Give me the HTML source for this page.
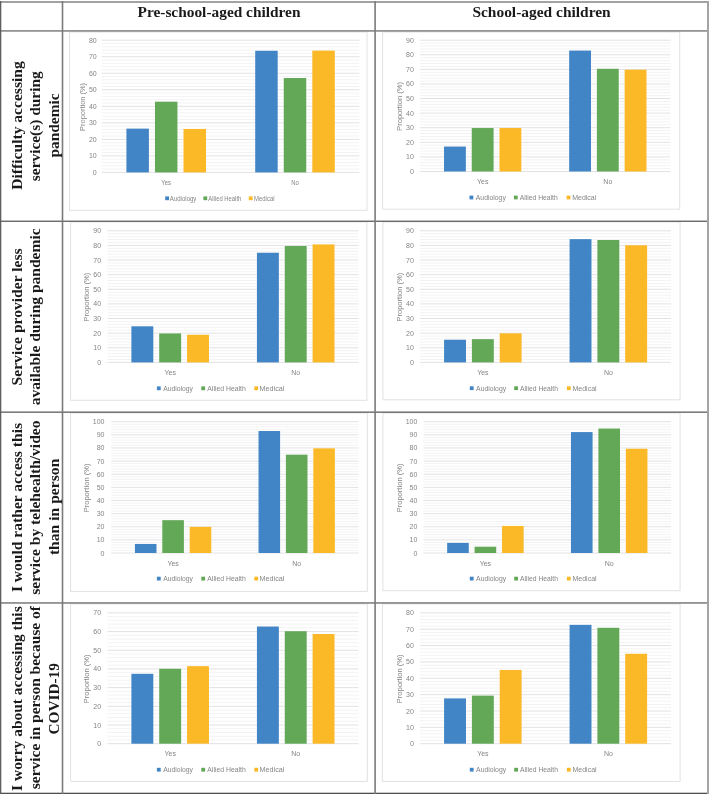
<!DOCTYPE html><html><head><meta charset="utf-8"><style>html,body{margin:0;padding:0;background:#fff;}svg{display:block;filter:blur(0.35px)}</style></head><body>
<svg width="709" height="794" viewBox="0 0 709 794" font-family="Liberation Sans, sans-serif">
<rect x="0" y="0" width="709" height="794" fill="#fff"/>
<rect x="69.5" y="32" width="297.5" height="178.3" fill="#fff" stroke="#e2e2e2" stroke-width="1"/>
<line x1="101.8" x2="359.4" y1="169.09" y2="169.09" stroke="#f3f3f5" stroke-width="1"/>
<line x1="101.8" x2="359.4" y1="165.79" y2="165.79" stroke="#f3f3f5" stroke-width="1"/>
<line x1="101.8" x2="359.4" y1="162.49" y2="162.49" stroke="#f3f3f5" stroke-width="1"/>
<line x1="101.8" x2="359.4" y1="159.18" y2="159.18" stroke="#f3f3f5" stroke-width="1"/>
<line x1="101.8" x2="359.4" y1="152.57" y2="152.57" stroke="#f3f3f5" stroke-width="1"/>
<line x1="101.8" x2="359.4" y1="149.27" y2="149.27" stroke="#f3f3f5" stroke-width="1"/>
<line x1="101.8" x2="359.4" y1="145.96" y2="145.96" stroke="#f3f3f5" stroke-width="1"/>
<line x1="101.8" x2="359.4" y1="142.66" y2="142.66" stroke="#f3f3f5" stroke-width="1"/>
<line x1="101.8" x2="359.4" y1="136.05" y2="136.05" stroke="#f3f3f5" stroke-width="1"/>
<line x1="101.8" x2="359.4" y1="132.74" y2="132.74" stroke="#f3f3f5" stroke-width="1"/>
<line x1="101.8" x2="359.4" y1="129.44" y2="129.44" stroke="#f3f3f5" stroke-width="1"/>
<line x1="101.8" x2="359.4" y1="126.13" y2="126.13" stroke="#f3f3f5" stroke-width="1"/>
<line x1="101.8" x2="359.4" y1="119.52" y2="119.52" stroke="#f3f3f5" stroke-width="1"/>
<line x1="101.8" x2="359.4" y1="116.22" y2="116.22" stroke="#f3f3f5" stroke-width="1"/>
<line x1="101.8" x2="359.4" y1="112.91" y2="112.91" stroke="#f3f3f5" stroke-width="1"/>
<line x1="101.8" x2="359.4" y1="109.61" y2="109.61" stroke="#f3f3f5" stroke-width="1"/>
<line x1="101.8" x2="359.4" y1="103" y2="103" stroke="#f3f3f5" stroke-width="1"/>
<line x1="101.8" x2="359.4" y1="99.69" y2="99.69" stroke="#f3f3f5" stroke-width="1"/>
<line x1="101.8" x2="359.4" y1="96.39" y2="96.39" stroke="#f3f3f5" stroke-width="1"/>
<line x1="101.8" x2="359.4" y1="93.08" y2="93.08" stroke="#f3f3f5" stroke-width="1"/>
<line x1="101.8" x2="359.4" y1="86.47" y2="86.47" stroke="#f3f3f5" stroke-width="1"/>
<line x1="101.8" x2="359.4" y1="83.17" y2="83.17" stroke="#f3f3f5" stroke-width="1"/>
<line x1="101.8" x2="359.4" y1="79.86" y2="79.86" stroke="#f3f3f5" stroke-width="1"/>
<line x1="101.8" x2="359.4" y1="76.56" y2="76.56" stroke="#f3f3f5" stroke-width="1"/>
<line x1="101.8" x2="359.4" y1="69.95" y2="69.95" stroke="#f3f3f5" stroke-width="1"/>
<line x1="101.8" x2="359.4" y1="66.64" y2="66.64" stroke="#f3f3f5" stroke-width="1"/>
<line x1="101.8" x2="359.4" y1="63.34" y2="63.34" stroke="#f3f3f5" stroke-width="1"/>
<line x1="101.8" x2="359.4" y1="60.03" y2="60.03" stroke="#f3f3f5" stroke-width="1"/>
<line x1="101.8" x2="359.4" y1="53.42" y2="53.42" stroke="#f3f3f5" stroke-width="1"/>
<line x1="101.8" x2="359.4" y1="50.12" y2="50.12" stroke="#f3f3f5" stroke-width="1"/>
<line x1="101.8" x2="359.4" y1="46.81" y2="46.81" stroke="#f3f3f5" stroke-width="1"/>
<line x1="101.8" x2="359.4" y1="43.51" y2="43.51" stroke="#f3f3f5" stroke-width="1"/>
<line x1="101.8" x2="359.4" y1="172.4" y2="172.4" stroke="#e2e2e4" stroke-width="1"/>
<text x="96.7" y="174.92" font-size="7" fill="#858585" text-anchor="end">0</text>
<line x1="101.8" x2="359.4" y1="155.88" y2="155.88" stroke="#e2e2e4" stroke-width="1"/>
<text x="96.7" y="158.4" font-size="7" fill="#858585" text-anchor="end">10</text>
<line x1="101.8" x2="359.4" y1="139.35" y2="139.35" stroke="#e2e2e4" stroke-width="1"/>
<text x="96.7" y="141.87" font-size="7" fill="#858585" text-anchor="end">20</text>
<line x1="101.8" x2="359.4" y1="122.83" y2="122.83" stroke="#e2e2e4" stroke-width="1"/>
<text x="96.7" y="125.35" font-size="7" fill="#858585" text-anchor="end">30</text>
<line x1="101.8" x2="359.4" y1="106.3" y2="106.3" stroke="#e2e2e4" stroke-width="1"/>
<text x="96.7" y="108.82" font-size="7" fill="#858585" text-anchor="end">40</text>
<line x1="101.8" x2="359.4" y1="89.78" y2="89.78" stroke="#e2e2e4" stroke-width="1"/>
<text x="96.7" y="92.3" font-size="7" fill="#858585" text-anchor="end">50</text>
<line x1="101.8" x2="359.4" y1="73.25" y2="73.25" stroke="#e2e2e4" stroke-width="1"/>
<text x="96.7" y="75.77" font-size="7" fill="#858585" text-anchor="end">60</text>
<line x1="101.8" x2="359.4" y1="56.73" y2="56.73" stroke="#e2e2e4" stroke-width="1"/>
<text x="96.7" y="59.25" font-size="7" fill="#858585" text-anchor="end">70</text>
<line x1="101.8" x2="359.4" y1="40.2" y2="40.2" stroke="#e2e2e4" stroke-width="1"/>
<text x="96.7" y="42.72" font-size="7" fill="#858585" text-anchor="end">80</text>
<rect x="126.41" y="128.61" width="22.48" height="43.79" fill="#4285c6"/>
<rect x="154.96" y="101.67" width="22.48" height="70.73" fill="#62a857"/>
<rect x="183.51" y="128.94" width="22.48" height="43.46" fill="#fbb928"/>
<text x="166.2" y="184.92" font-size="7" fill="#858585" text-anchor="middle" textLength="9.71" lengthAdjust="spacingAndGlyphs">Yes</text>
<rect x="255.21" y="50.78" width="22.48" height="121.62" fill="#4285c6"/>
<rect x="283.76" y="78.04" width="22.48" height="94.36" fill="#62a857"/>
<rect x="312.31" y="50.61" width="22.48" height="121.79" fill="#fbb928"/>
<text x="295" y="184.92" font-size="7" fill="#858585" text-anchor="middle" textLength="7.61" lengthAdjust="spacingAndGlyphs">No</text>
<text transform="translate(85.32,106.9) rotate(-90)" font-size="7" fill="#858585" text-anchor="middle" textLength="48" lengthAdjust="spacingAndGlyphs">Proportion (%)</text>
<rect x="165.2" y="196.4" width="3.8" height="3.8" fill="#4285c6"/>
<text x="169.8" y="200.82" font-size="7" fill="#858585" textLength="26.6" lengthAdjust="spacingAndGlyphs">Audiology</text>
<rect x="203.4" y="196.4" width="3.8" height="3.8" fill="#62a857"/>
<text x="208.3" y="200.82" font-size="7" fill="#858585" textLength="33" lengthAdjust="spacingAndGlyphs">Allied Health</text>
<rect x="248.8" y="196.4" width="3.8" height="3.8" fill="#fbb928"/>
<text x="254.1" y="200.82" font-size="7" fill="#858585" textLength="20.4" lengthAdjust="spacingAndGlyphs">Medical</text>
<rect x="382.6" y="32" width="297.1" height="177.2" fill="#fff" stroke="#e2e2e2" stroke-width="1"/>
<line x1="420.1" x2="670.4" y1="168.58" y2="168.58" stroke="#f3f3f5" stroke-width="1"/>
<line x1="420.1" x2="670.4" y1="165.66" y2="165.66" stroke="#f3f3f5" stroke-width="1"/>
<line x1="420.1" x2="670.4" y1="162.75" y2="162.75" stroke="#f3f3f5" stroke-width="1"/>
<line x1="420.1" x2="670.4" y1="159.83" y2="159.83" stroke="#f3f3f5" stroke-width="1"/>
<line x1="420.1" x2="670.4" y1="153.99" y2="153.99" stroke="#f3f3f5" stroke-width="1"/>
<line x1="420.1" x2="670.4" y1="151.08" y2="151.08" stroke="#f3f3f5" stroke-width="1"/>
<line x1="420.1" x2="670.4" y1="148.16" y2="148.16" stroke="#f3f3f5" stroke-width="1"/>
<line x1="420.1" x2="670.4" y1="145.24" y2="145.24" stroke="#f3f3f5" stroke-width="1"/>
<line x1="420.1" x2="670.4" y1="139.4" y2="139.4" stroke="#f3f3f5" stroke-width="1"/>
<line x1="420.1" x2="670.4" y1="136.49" y2="136.49" stroke="#f3f3f5" stroke-width="1"/>
<line x1="420.1" x2="670.4" y1="133.57" y2="133.57" stroke="#f3f3f5" stroke-width="1"/>
<line x1="420.1" x2="670.4" y1="130.65" y2="130.65" stroke="#f3f3f5" stroke-width="1"/>
<line x1="420.1" x2="670.4" y1="124.82" y2="124.82" stroke="#f3f3f5" stroke-width="1"/>
<line x1="420.1" x2="670.4" y1="121.9" y2="121.9" stroke="#f3f3f5" stroke-width="1"/>
<line x1="420.1" x2="670.4" y1="118.98" y2="118.98" stroke="#f3f3f5" stroke-width="1"/>
<line x1="420.1" x2="670.4" y1="116.06" y2="116.06" stroke="#f3f3f5" stroke-width="1"/>
<line x1="420.1" x2="670.4" y1="110.23" y2="110.23" stroke="#f3f3f5" stroke-width="1"/>
<line x1="420.1" x2="670.4" y1="107.31" y2="107.31" stroke="#f3f3f5" stroke-width="1"/>
<line x1="420.1" x2="670.4" y1="104.39" y2="104.39" stroke="#f3f3f5" stroke-width="1"/>
<line x1="420.1" x2="670.4" y1="101.47" y2="101.47" stroke="#f3f3f5" stroke-width="1"/>
<line x1="420.1" x2="670.4" y1="95.64" y2="95.64" stroke="#f3f3f5" stroke-width="1"/>
<line x1="420.1" x2="670.4" y1="92.72" y2="92.72" stroke="#f3f3f5" stroke-width="1"/>
<line x1="420.1" x2="670.4" y1="89.8" y2="89.8" stroke="#f3f3f5" stroke-width="1"/>
<line x1="420.1" x2="670.4" y1="86.88" y2="86.88" stroke="#f3f3f5" stroke-width="1"/>
<line x1="420.1" x2="670.4" y1="81.05" y2="81.05" stroke="#f3f3f5" stroke-width="1"/>
<line x1="420.1" x2="670.4" y1="78.13" y2="78.13" stroke="#f3f3f5" stroke-width="1"/>
<line x1="420.1" x2="670.4" y1="75.21" y2="75.21" stroke="#f3f3f5" stroke-width="1"/>
<line x1="420.1" x2="670.4" y1="72.3" y2="72.3" stroke="#f3f3f5" stroke-width="1"/>
<line x1="420.1" x2="670.4" y1="66.46" y2="66.46" stroke="#f3f3f5" stroke-width="1"/>
<line x1="420.1" x2="670.4" y1="63.54" y2="63.54" stroke="#f3f3f5" stroke-width="1"/>
<line x1="420.1" x2="670.4" y1="60.62" y2="60.62" stroke="#f3f3f5" stroke-width="1"/>
<line x1="420.1" x2="670.4" y1="57.71" y2="57.71" stroke="#f3f3f5" stroke-width="1"/>
<line x1="420.1" x2="670.4" y1="51.87" y2="51.87" stroke="#f3f3f5" stroke-width="1"/>
<line x1="420.1" x2="670.4" y1="48.95" y2="48.95" stroke="#f3f3f5" stroke-width="1"/>
<line x1="420.1" x2="670.4" y1="46.04" y2="46.04" stroke="#f3f3f5" stroke-width="1"/>
<line x1="420.1" x2="670.4" y1="43.12" y2="43.12" stroke="#f3f3f5" stroke-width="1"/>
<line x1="420.1" x2="670.4" y1="171.5" y2="171.5" stroke="#e2e2e4" stroke-width="1"/>
<text x="413.8" y="174.02" font-size="7" fill="#858585" text-anchor="end">0</text>
<line x1="420.1" x2="670.4" y1="156.91" y2="156.91" stroke="#e2e2e4" stroke-width="1"/>
<text x="413.8" y="159.43" font-size="7" fill="#858585" text-anchor="end">10</text>
<line x1="420.1" x2="670.4" y1="142.32" y2="142.32" stroke="#e2e2e4" stroke-width="1"/>
<text x="413.8" y="144.84" font-size="7" fill="#858585" text-anchor="end">20</text>
<line x1="420.1" x2="670.4" y1="127.73" y2="127.73" stroke="#e2e2e4" stroke-width="1"/>
<text x="413.8" y="130.25" font-size="7" fill="#858585" text-anchor="end">30</text>
<line x1="420.1" x2="670.4" y1="113.14" y2="113.14" stroke="#e2e2e4" stroke-width="1"/>
<text x="413.8" y="115.66" font-size="7" fill="#858585" text-anchor="end">40</text>
<line x1="420.1" x2="670.4" y1="98.56" y2="98.56" stroke="#e2e2e4" stroke-width="1"/>
<text x="413.8" y="101.08" font-size="7" fill="#858585" text-anchor="end">50</text>
<line x1="420.1" x2="670.4" y1="83.97" y2="83.97" stroke="#e2e2e4" stroke-width="1"/>
<text x="413.8" y="86.49" font-size="7" fill="#858585" text-anchor="end">60</text>
<line x1="420.1" x2="670.4" y1="69.38" y2="69.38" stroke="#e2e2e4" stroke-width="1"/>
<text x="413.8" y="71.9" font-size="7" fill="#858585" text-anchor="end">70</text>
<line x1="420.1" x2="670.4" y1="54.79" y2="54.79" stroke="#e2e2e4" stroke-width="1"/>
<text x="413.8" y="57.31" font-size="7" fill="#858585" text-anchor="end">80</text>
<line x1="420.1" x2="670.4" y1="40.2" y2="40.2" stroke="#e2e2e4" stroke-width="1"/>
<text x="413.8" y="42.72" font-size="7" fill="#858585" text-anchor="end">90</text>
<rect x="444.02" y="146.55" width="21.84" height="24.95" fill="#4285c6"/>
<rect x="471.75" y="128.03" width="21.84" height="43.47" fill="#62a857"/>
<rect x="499.49" y="128.03" width="21.84" height="43.47" fill="#fbb928"/>
<text x="482.68" y="184.02" font-size="7" fill="#858585" text-anchor="middle" textLength="11.42" lengthAdjust="spacingAndGlyphs">Yes</text>
<rect x="569.17" y="50.56" width="21.84" height="120.94" fill="#4285c6"/>
<rect x="596.9" y="68.79" width="21.84" height="102.71" fill="#62a857"/>
<rect x="624.64" y="69.67" width="21.84" height="101.83" fill="#fbb928"/>
<text x="607.83" y="184.02" font-size="7" fill="#858585" text-anchor="middle" textLength="8.95" lengthAdjust="spacingAndGlyphs">No</text>
<text transform="translate(401.72,106.45) rotate(-90)" font-size="7" fill="#858585" text-anchor="middle" textLength="49" lengthAdjust="spacingAndGlyphs">Proportion (%)</text>
<rect x="469.5" y="195.6" width="3.8" height="3.8" fill="#4285c6"/>
<text x="475.8" y="200.02" font-size="7" fill="#858585" textLength="30" lengthAdjust="spacingAndGlyphs">Audiology</text>
<rect x="513.9" y="195.6" width="3.8" height="3.8" fill="#62a857"/>
<text x="519.8" y="200.02" font-size="7" fill="#858585" textLength="37.9" lengthAdjust="spacingAndGlyphs">Allied Health</text>
<rect x="566.6" y="195.6" width="3.8" height="3.8" fill="#fbb928"/>
<text x="572.2" y="200.02" font-size="7" fill="#858585" textLength="24.1" lengthAdjust="spacingAndGlyphs">Medical</text>
<rect x="70.6" y="222" width="296.3" height="178.3" fill="#fff" stroke="#e2e2e2" stroke-width="1"/>
<line x1="107.4" x2="358.5" y1="359.48" y2="359.48" stroke="#f3f3f5" stroke-width="1"/>
<line x1="107.4" x2="358.5" y1="356.55" y2="356.55" stroke="#f3f3f5" stroke-width="1"/>
<line x1="107.4" x2="358.5" y1="353.63" y2="353.63" stroke="#f3f3f5" stroke-width="1"/>
<line x1="107.4" x2="358.5" y1="350.7" y2="350.7" stroke="#f3f3f5" stroke-width="1"/>
<line x1="107.4" x2="358.5" y1="344.85" y2="344.85" stroke="#f3f3f5" stroke-width="1"/>
<line x1="107.4" x2="358.5" y1="341.93" y2="341.93" stroke="#f3f3f5" stroke-width="1"/>
<line x1="107.4" x2="358.5" y1="339" y2="339" stroke="#f3f3f5" stroke-width="1"/>
<line x1="107.4" x2="358.5" y1="336.08" y2="336.08" stroke="#f3f3f5" stroke-width="1"/>
<line x1="107.4" x2="358.5" y1="330.23" y2="330.23" stroke="#f3f3f5" stroke-width="1"/>
<line x1="107.4" x2="358.5" y1="327.31" y2="327.31" stroke="#f3f3f5" stroke-width="1"/>
<line x1="107.4" x2="358.5" y1="324.38" y2="324.38" stroke="#f3f3f5" stroke-width="1"/>
<line x1="107.4" x2="358.5" y1="321.46" y2="321.46" stroke="#f3f3f5" stroke-width="1"/>
<line x1="107.4" x2="358.5" y1="315.61" y2="315.61" stroke="#f3f3f5" stroke-width="1"/>
<line x1="107.4" x2="358.5" y1="312.68" y2="312.68" stroke="#f3f3f5" stroke-width="1"/>
<line x1="107.4" x2="358.5" y1="309.76" y2="309.76" stroke="#f3f3f5" stroke-width="1"/>
<line x1="107.4" x2="358.5" y1="306.84" y2="306.84" stroke="#f3f3f5" stroke-width="1"/>
<line x1="107.4" x2="358.5" y1="300.99" y2="300.99" stroke="#f3f3f5" stroke-width="1"/>
<line x1="107.4" x2="358.5" y1="298.06" y2="298.06" stroke="#f3f3f5" stroke-width="1"/>
<line x1="107.4" x2="358.5" y1="295.14" y2="295.14" stroke="#f3f3f5" stroke-width="1"/>
<line x1="107.4" x2="358.5" y1="292.21" y2="292.21" stroke="#f3f3f5" stroke-width="1"/>
<line x1="107.4" x2="358.5" y1="286.36" y2="286.36" stroke="#f3f3f5" stroke-width="1"/>
<line x1="107.4" x2="358.5" y1="283.44" y2="283.44" stroke="#f3f3f5" stroke-width="1"/>
<line x1="107.4" x2="358.5" y1="280.52" y2="280.52" stroke="#f3f3f5" stroke-width="1"/>
<line x1="107.4" x2="358.5" y1="277.59" y2="277.59" stroke="#f3f3f5" stroke-width="1"/>
<line x1="107.4" x2="358.5" y1="271.74" y2="271.74" stroke="#f3f3f5" stroke-width="1"/>
<line x1="107.4" x2="358.5" y1="268.82" y2="268.82" stroke="#f3f3f5" stroke-width="1"/>
<line x1="107.4" x2="358.5" y1="265.89" y2="265.89" stroke="#f3f3f5" stroke-width="1"/>
<line x1="107.4" x2="358.5" y1="262.97" y2="262.97" stroke="#f3f3f5" stroke-width="1"/>
<line x1="107.4" x2="358.5" y1="257.12" y2="257.12" stroke="#f3f3f5" stroke-width="1"/>
<line x1="107.4" x2="358.5" y1="254.2" y2="254.2" stroke="#f3f3f5" stroke-width="1"/>
<line x1="107.4" x2="358.5" y1="251.27" y2="251.27" stroke="#f3f3f5" stroke-width="1"/>
<line x1="107.4" x2="358.5" y1="248.35" y2="248.35" stroke="#f3f3f5" stroke-width="1"/>
<line x1="107.4" x2="358.5" y1="242.5" y2="242.5" stroke="#f3f3f5" stroke-width="1"/>
<line x1="107.4" x2="358.5" y1="239.57" y2="239.57" stroke="#f3f3f5" stroke-width="1"/>
<line x1="107.4" x2="358.5" y1="236.65" y2="236.65" stroke="#f3f3f5" stroke-width="1"/>
<line x1="107.4" x2="358.5" y1="233.72" y2="233.72" stroke="#f3f3f5" stroke-width="1"/>
<line x1="107.4" x2="358.5" y1="362.4" y2="362.4" stroke="#e2e2e4" stroke-width="1"/>
<text x="101.1" y="364.92" font-size="7" fill="#858585" text-anchor="end">0</text>
<line x1="107.4" x2="358.5" y1="347.78" y2="347.78" stroke="#e2e2e4" stroke-width="1"/>
<text x="101.1" y="350.3" font-size="7" fill="#858585" text-anchor="end">10</text>
<line x1="107.4" x2="358.5" y1="333.16" y2="333.16" stroke="#e2e2e4" stroke-width="1"/>
<text x="101.1" y="335.68" font-size="7" fill="#858585" text-anchor="end">20</text>
<line x1="107.4" x2="358.5" y1="318.53" y2="318.53" stroke="#e2e2e4" stroke-width="1"/>
<text x="101.1" y="321.05" font-size="7" fill="#858585" text-anchor="end">30</text>
<line x1="107.4" x2="358.5" y1="303.91" y2="303.91" stroke="#e2e2e4" stroke-width="1"/>
<text x="101.1" y="306.43" font-size="7" fill="#858585" text-anchor="end">40</text>
<line x1="107.4" x2="358.5" y1="289.29" y2="289.29" stroke="#e2e2e4" stroke-width="1"/>
<text x="101.1" y="291.81" font-size="7" fill="#858585" text-anchor="end">50</text>
<line x1="107.4" x2="358.5" y1="274.67" y2="274.67" stroke="#e2e2e4" stroke-width="1"/>
<text x="101.1" y="277.19" font-size="7" fill="#858585" text-anchor="end">60</text>
<line x1="107.4" x2="358.5" y1="260.04" y2="260.04" stroke="#e2e2e4" stroke-width="1"/>
<text x="101.1" y="262.56" font-size="7" fill="#858585" text-anchor="end">70</text>
<line x1="107.4" x2="358.5" y1="245.42" y2="245.42" stroke="#e2e2e4" stroke-width="1"/>
<text x="101.1" y="247.94" font-size="7" fill="#858585" text-anchor="end">80</text>
<line x1="107.4" x2="358.5" y1="230.8" y2="230.8" stroke="#e2e2e4" stroke-width="1"/>
<text x="101.1" y="233.32" font-size="7" fill="#858585" text-anchor="end">90</text>
<rect x="131.39" y="326.28" width="21.91" height="36.12" fill="#4285c6"/>
<rect x="159.22" y="333.45" width="21.91" height="28.95" fill="#62a857"/>
<rect x="187.05" y="334.76" width="21.91" height="27.64" fill="#fbb928"/>
<text x="170.18" y="374.92" font-size="7" fill="#858585" text-anchor="middle" textLength="11.42" lengthAdjust="spacingAndGlyphs">Yes</text>
<rect x="256.94" y="252.73" width="21.91" height="109.67" fill="#4285c6"/>
<rect x="284.77" y="246.01" width="21.91" height="116.39" fill="#62a857"/>
<rect x="312.6" y="244.4" width="21.91" height="118" fill="#fbb928"/>
<text x="295.73" y="374.92" font-size="7" fill="#858585" text-anchor="middle" textLength="8.95" lengthAdjust="spacingAndGlyphs">No</text>
<text transform="translate(88.52,297.2) rotate(-90)" font-size="7" fill="#858585" text-anchor="middle" textLength="49" lengthAdjust="spacingAndGlyphs">Proportion (%)</text>
<rect x="156.9" y="386.4" width="3.8" height="3.8" fill="#4285c6"/>
<text x="163.2" y="390.82" font-size="7" fill="#858585" textLength="29.8" lengthAdjust="spacingAndGlyphs">Audiology</text>
<rect x="201.3" y="386.4" width="3.8" height="3.8" fill="#62a857"/>
<text x="207.3" y="390.82" font-size="7" fill="#858585" textLength="38.5" lengthAdjust="spacingAndGlyphs">Allied Health</text>
<rect x="254.3" y="386.4" width="3.8" height="3.8" fill="#fbb928"/>
<text x="259.6" y="390.82" font-size="7" fill="#858585" textLength="24.7" lengthAdjust="spacingAndGlyphs">Medical</text>
<rect x="382.9" y="222" width="297.2" height="177.8" fill="#fff" stroke="#e2e2e2" stroke-width="1"/>
<line x1="420.1" x2="671.1" y1="359.48" y2="359.48" stroke="#f3f3f5" stroke-width="1"/>
<line x1="420.1" x2="671.1" y1="356.55" y2="356.55" stroke="#f3f3f5" stroke-width="1"/>
<line x1="420.1" x2="671.1" y1="353.63" y2="353.63" stroke="#f3f3f5" stroke-width="1"/>
<line x1="420.1" x2="671.1" y1="350.7" y2="350.7" stroke="#f3f3f5" stroke-width="1"/>
<line x1="420.1" x2="671.1" y1="344.85" y2="344.85" stroke="#f3f3f5" stroke-width="1"/>
<line x1="420.1" x2="671.1" y1="341.93" y2="341.93" stroke="#f3f3f5" stroke-width="1"/>
<line x1="420.1" x2="671.1" y1="339" y2="339" stroke="#f3f3f5" stroke-width="1"/>
<line x1="420.1" x2="671.1" y1="336.08" y2="336.08" stroke="#f3f3f5" stroke-width="1"/>
<line x1="420.1" x2="671.1" y1="330.23" y2="330.23" stroke="#f3f3f5" stroke-width="1"/>
<line x1="420.1" x2="671.1" y1="327.31" y2="327.31" stroke="#f3f3f5" stroke-width="1"/>
<line x1="420.1" x2="671.1" y1="324.38" y2="324.38" stroke="#f3f3f5" stroke-width="1"/>
<line x1="420.1" x2="671.1" y1="321.46" y2="321.46" stroke="#f3f3f5" stroke-width="1"/>
<line x1="420.1" x2="671.1" y1="315.61" y2="315.61" stroke="#f3f3f5" stroke-width="1"/>
<line x1="420.1" x2="671.1" y1="312.68" y2="312.68" stroke="#f3f3f5" stroke-width="1"/>
<line x1="420.1" x2="671.1" y1="309.76" y2="309.76" stroke="#f3f3f5" stroke-width="1"/>
<line x1="420.1" x2="671.1" y1="306.84" y2="306.84" stroke="#f3f3f5" stroke-width="1"/>
<line x1="420.1" x2="671.1" y1="300.99" y2="300.99" stroke="#f3f3f5" stroke-width="1"/>
<line x1="420.1" x2="671.1" y1="298.06" y2="298.06" stroke="#f3f3f5" stroke-width="1"/>
<line x1="420.1" x2="671.1" y1="295.14" y2="295.14" stroke="#f3f3f5" stroke-width="1"/>
<line x1="420.1" x2="671.1" y1="292.21" y2="292.21" stroke="#f3f3f5" stroke-width="1"/>
<line x1="420.1" x2="671.1" y1="286.36" y2="286.36" stroke="#f3f3f5" stroke-width="1"/>
<line x1="420.1" x2="671.1" y1="283.44" y2="283.44" stroke="#f3f3f5" stroke-width="1"/>
<line x1="420.1" x2="671.1" y1="280.52" y2="280.52" stroke="#f3f3f5" stroke-width="1"/>
<line x1="420.1" x2="671.1" y1="277.59" y2="277.59" stroke="#f3f3f5" stroke-width="1"/>
<line x1="420.1" x2="671.1" y1="271.74" y2="271.74" stroke="#f3f3f5" stroke-width="1"/>
<line x1="420.1" x2="671.1" y1="268.82" y2="268.82" stroke="#f3f3f5" stroke-width="1"/>
<line x1="420.1" x2="671.1" y1="265.89" y2="265.89" stroke="#f3f3f5" stroke-width="1"/>
<line x1="420.1" x2="671.1" y1="262.97" y2="262.97" stroke="#f3f3f5" stroke-width="1"/>
<line x1="420.1" x2="671.1" y1="257.12" y2="257.12" stroke="#f3f3f5" stroke-width="1"/>
<line x1="420.1" x2="671.1" y1="254.2" y2="254.2" stroke="#f3f3f5" stroke-width="1"/>
<line x1="420.1" x2="671.1" y1="251.27" y2="251.27" stroke="#f3f3f5" stroke-width="1"/>
<line x1="420.1" x2="671.1" y1="248.35" y2="248.35" stroke="#f3f3f5" stroke-width="1"/>
<line x1="420.1" x2="671.1" y1="242.5" y2="242.5" stroke="#f3f3f5" stroke-width="1"/>
<line x1="420.1" x2="671.1" y1="239.57" y2="239.57" stroke="#f3f3f5" stroke-width="1"/>
<line x1="420.1" x2="671.1" y1="236.65" y2="236.65" stroke="#f3f3f5" stroke-width="1"/>
<line x1="420.1" x2="671.1" y1="233.72" y2="233.72" stroke="#f3f3f5" stroke-width="1"/>
<line x1="420.1" x2="671.1" y1="362.4" y2="362.4" stroke="#e2e2e4" stroke-width="1"/>
<text x="413.8" y="364.92" font-size="7" fill="#858585" text-anchor="end">0</text>
<line x1="420.1" x2="671.1" y1="347.78" y2="347.78" stroke="#e2e2e4" stroke-width="1"/>
<text x="413.8" y="350.3" font-size="7" fill="#858585" text-anchor="end">10</text>
<line x1="420.1" x2="671.1" y1="333.16" y2="333.16" stroke="#e2e2e4" stroke-width="1"/>
<text x="413.8" y="335.68" font-size="7" fill="#858585" text-anchor="end">20</text>
<line x1="420.1" x2="671.1" y1="318.53" y2="318.53" stroke="#e2e2e4" stroke-width="1"/>
<text x="413.8" y="321.05" font-size="7" fill="#858585" text-anchor="end">30</text>
<line x1="420.1" x2="671.1" y1="303.91" y2="303.91" stroke="#e2e2e4" stroke-width="1"/>
<text x="413.8" y="306.43" font-size="7" fill="#858585" text-anchor="end">40</text>
<line x1="420.1" x2="671.1" y1="289.29" y2="289.29" stroke="#e2e2e4" stroke-width="1"/>
<text x="413.8" y="291.81" font-size="7" fill="#858585" text-anchor="end">50</text>
<line x1="420.1" x2="671.1" y1="274.67" y2="274.67" stroke="#e2e2e4" stroke-width="1"/>
<text x="413.8" y="277.19" font-size="7" fill="#858585" text-anchor="end">60</text>
<line x1="420.1" x2="671.1" y1="260.04" y2="260.04" stroke="#e2e2e4" stroke-width="1"/>
<text x="413.8" y="262.56" font-size="7" fill="#858585" text-anchor="end">70</text>
<line x1="420.1" x2="671.1" y1="245.42" y2="245.42" stroke="#e2e2e4" stroke-width="1"/>
<text x="413.8" y="247.94" font-size="7" fill="#858585" text-anchor="end">80</text>
<line x1="420.1" x2="671.1" y1="230.8" y2="230.8" stroke="#e2e2e4" stroke-width="1"/>
<text x="413.8" y="233.32" font-size="7" fill="#858585" text-anchor="end">90</text>
<rect x="444.08" y="339.74" width="21.9" height="22.66" fill="#4285c6"/>
<rect x="471.9" y="339.15" width="21.9" height="23.25" fill="#62a857"/>
<rect x="499.71" y="333.3" width="21.9" height="29.1" fill="#fbb928"/>
<text x="482.85" y="374.92" font-size="7" fill="#858585" text-anchor="middle" textLength="11.42" lengthAdjust="spacingAndGlyphs">Yes</text>
<rect x="569.58" y="239.13" width="21.9" height="123.27" fill="#4285c6"/>
<rect x="597.4" y="240.01" width="21.9" height="122.39" fill="#62a857"/>
<rect x="625.21" y="245.28" width="21.9" height="117.12" fill="#fbb928"/>
<text x="608.35" y="374.92" font-size="7" fill="#858585" text-anchor="middle" textLength="8.95" lengthAdjust="spacingAndGlyphs">No</text>
<text transform="translate(401.72,297.2) rotate(-90)" font-size="7" fill="#858585" text-anchor="middle" textLength="49" lengthAdjust="spacingAndGlyphs">Proportion (%)</text>
<rect x="469.8" y="386.3" width="3.8" height="3.8" fill="#4285c6"/>
<text x="476.1" y="390.72" font-size="7" fill="#858585" textLength="30" lengthAdjust="spacingAndGlyphs">Audiology</text>
<rect x="514.2" y="386.3" width="3.8" height="3.8" fill="#62a857"/>
<text x="520.1" y="390.72" font-size="7" fill="#858585" textLength="37.9" lengthAdjust="spacingAndGlyphs">Allied Health</text>
<rect x="566.9" y="386.3" width="3.8" height="3.8" fill="#fbb928"/>
<text x="572.5" y="390.72" font-size="7" fill="#858585" textLength="24.1" lengthAdjust="spacingAndGlyphs">Medical</text>
<rect x="70.6" y="413" width="296.7" height="178.4" fill="#fff" stroke="#e2e2e2" stroke-width="1"/>
<line x1="111.3" x2="358.5" y1="550.37" y2="550.37" stroke="#f3f3f5" stroke-width="1"/>
<line x1="111.3" x2="358.5" y1="547.75" y2="547.75" stroke="#f3f3f5" stroke-width="1"/>
<line x1="111.3" x2="358.5" y1="545.12" y2="545.12" stroke="#f3f3f5" stroke-width="1"/>
<line x1="111.3" x2="358.5" y1="542.5" y2="542.5" stroke="#f3f3f5" stroke-width="1"/>
<line x1="111.3" x2="358.5" y1="537.24" y2="537.24" stroke="#f3f3f5" stroke-width="1"/>
<line x1="111.3" x2="358.5" y1="534.62" y2="534.62" stroke="#f3f3f5" stroke-width="1"/>
<line x1="111.3" x2="358.5" y1="531.99" y2="531.99" stroke="#f3f3f5" stroke-width="1"/>
<line x1="111.3" x2="358.5" y1="529.37" y2="529.37" stroke="#f3f3f5" stroke-width="1"/>
<line x1="111.3" x2="358.5" y1="524.11" y2="524.11" stroke="#f3f3f5" stroke-width="1"/>
<line x1="111.3" x2="358.5" y1="521.49" y2="521.49" stroke="#f3f3f5" stroke-width="1"/>
<line x1="111.3" x2="358.5" y1="518.86" y2="518.86" stroke="#f3f3f5" stroke-width="1"/>
<line x1="111.3" x2="358.5" y1="516.24" y2="516.24" stroke="#f3f3f5" stroke-width="1"/>
<line x1="111.3" x2="358.5" y1="510.98" y2="510.98" stroke="#f3f3f5" stroke-width="1"/>
<line x1="111.3" x2="358.5" y1="508.36" y2="508.36" stroke="#f3f3f5" stroke-width="1"/>
<line x1="111.3" x2="358.5" y1="505.73" y2="505.73" stroke="#f3f3f5" stroke-width="1"/>
<line x1="111.3" x2="358.5" y1="503.11" y2="503.11" stroke="#f3f3f5" stroke-width="1"/>
<line x1="111.3" x2="358.5" y1="497.85" y2="497.85" stroke="#f3f3f5" stroke-width="1"/>
<line x1="111.3" x2="358.5" y1="495.23" y2="495.23" stroke="#f3f3f5" stroke-width="1"/>
<line x1="111.3" x2="358.5" y1="492.6" y2="492.6" stroke="#f3f3f5" stroke-width="1"/>
<line x1="111.3" x2="358.5" y1="489.98" y2="489.98" stroke="#f3f3f5" stroke-width="1"/>
<line x1="111.3" x2="358.5" y1="484.72" y2="484.72" stroke="#f3f3f5" stroke-width="1"/>
<line x1="111.3" x2="358.5" y1="482.1" y2="482.1" stroke="#f3f3f5" stroke-width="1"/>
<line x1="111.3" x2="358.5" y1="479.47" y2="479.47" stroke="#f3f3f5" stroke-width="1"/>
<line x1="111.3" x2="358.5" y1="476.85" y2="476.85" stroke="#f3f3f5" stroke-width="1"/>
<line x1="111.3" x2="358.5" y1="471.59" y2="471.59" stroke="#f3f3f5" stroke-width="1"/>
<line x1="111.3" x2="358.5" y1="468.97" y2="468.97" stroke="#f3f3f5" stroke-width="1"/>
<line x1="111.3" x2="358.5" y1="466.34" y2="466.34" stroke="#f3f3f5" stroke-width="1"/>
<line x1="111.3" x2="358.5" y1="463.72" y2="463.72" stroke="#f3f3f5" stroke-width="1"/>
<line x1="111.3" x2="358.5" y1="458.46" y2="458.46" stroke="#f3f3f5" stroke-width="1"/>
<line x1="111.3" x2="358.5" y1="455.84" y2="455.84" stroke="#f3f3f5" stroke-width="1"/>
<line x1="111.3" x2="358.5" y1="453.21" y2="453.21" stroke="#f3f3f5" stroke-width="1"/>
<line x1="111.3" x2="358.5" y1="450.59" y2="450.59" stroke="#f3f3f5" stroke-width="1"/>
<line x1="111.3" x2="358.5" y1="445.33" y2="445.33" stroke="#f3f3f5" stroke-width="1"/>
<line x1="111.3" x2="358.5" y1="442.71" y2="442.71" stroke="#f3f3f5" stroke-width="1"/>
<line x1="111.3" x2="358.5" y1="440.08" y2="440.08" stroke="#f3f3f5" stroke-width="1"/>
<line x1="111.3" x2="358.5" y1="437.46" y2="437.46" stroke="#f3f3f5" stroke-width="1"/>
<line x1="111.3" x2="358.5" y1="432.2" y2="432.2" stroke="#f3f3f5" stroke-width="1"/>
<line x1="111.3" x2="358.5" y1="429.58" y2="429.58" stroke="#f3f3f5" stroke-width="1"/>
<line x1="111.3" x2="358.5" y1="426.95" y2="426.95" stroke="#f3f3f5" stroke-width="1"/>
<line x1="111.3" x2="358.5" y1="424.33" y2="424.33" stroke="#f3f3f5" stroke-width="1"/>
<line x1="111.3" x2="358.5" y1="553" y2="553" stroke="#e2e2e4" stroke-width="1"/>
<text x="104.5" y="555.52" font-size="7" fill="#858585" text-anchor="end">0</text>
<line x1="111.3" x2="358.5" y1="539.87" y2="539.87" stroke="#e2e2e4" stroke-width="1"/>
<text x="104.5" y="542.39" font-size="7" fill="#858585" text-anchor="end">10</text>
<line x1="111.3" x2="358.5" y1="526.74" y2="526.74" stroke="#e2e2e4" stroke-width="1"/>
<text x="104.5" y="529.26" font-size="7" fill="#858585" text-anchor="end">20</text>
<line x1="111.3" x2="358.5" y1="513.61" y2="513.61" stroke="#e2e2e4" stroke-width="1"/>
<text x="104.5" y="516.13" font-size="7" fill="#858585" text-anchor="end">30</text>
<line x1="111.3" x2="358.5" y1="500.48" y2="500.48" stroke="#e2e2e4" stroke-width="1"/>
<text x="104.5" y="503" font-size="7" fill="#858585" text-anchor="end">40</text>
<line x1="111.3" x2="358.5" y1="487.35" y2="487.35" stroke="#e2e2e4" stroke-width="1"/>
<text x="104.5" y="489.87" font-size="7" fill="#858585" text-anchor="end">50</text>
<line x1="111.3" x2="358.5" y1="474.22" y2="474.22" stroke="#e2e2e4" stroke-width="1"/>
<text x="104.5" y="476.74" font-size="7" fill="#858585" text-anchor="end">60</text>
<line x1="111.3" x2="358.5" y1="461.09" y2="461.09" stroke="#e2e2e4" stroke-width="1"/>
<text x="104.5" y="463.61" font-size="7" fill="#858585" text-anchor="end">70</text>
<line x1="111.3" x2="358.5" y1="447.96" y2="447.96" stroke="#e2e2e4" stroke-width="1"/>
<text x="104.5" y="450.48" font-size="7" fill="#858585" text-anchor="end">80</text>
<line x1="111.3" x2="358.5" y1="434.83" y2="434.83" stroke="#e2e2e4" stroke-width="1"/>
<text x="104.5" y="437.35" font-size="7" fill="#858585" text-anchor="end">90</text>
<line x1="111.3" x2="358.5" y1="421.7" y2="421.7" stroke="#e2e2e4" stroke-width="1"/>
<text x="104.5" y="424.22" font-size="7" fill="#858585" text-anchor="end">100</text>
<rect x="134.92" y="543.94" width="21.57" height="9.06" fill="#4285c6"/>
<rect x="162.31" y="520.17" width="21.57" height="32.83" fill="#62a857"/>
<rect x="189.71" y="526.87" width="21.57" height="26.13" fill="#fbb928"/>
<text x="173.1" y="565.52" font-size="7" fill="#858585" text-anchor="middle" textLength="11.42" lengthAdjust="spacingAndGlyphs">Yes</text>
<rect x="258.52" y="431.02" width="21.57" height="121.98" fill="#4285c6"/>
<rect x="285.91" y="454.66" width="21.57" height="98.34" fill="#62a857"/>
<rect x="313.31" y="448.35" width="21.57" height="104.65" fill="#fbb928"/>
<text x="296.7" y="565.52" font-size="7" fill="#858585" text-anchor="middle" textLength="8.95" lengthAdjust="spacingAndGlyphs">No</text>
<text transform="translate(88.92,487.95) rotate(-90)" font-size="7" fill="#858585" text-anchor="middle" textLength="49" lengthAdjust="spacingAndGlyphs">Proportion (%)</text>
<rect x="156.9" y="576.7" width="3.8" height="3.8" fill="#4285c6"/>
<text x="163.2" y="581.12" font-size="7" fill="#858585" textLength="29.8" lengthAdjust="spacingAndGlyphs">Audiology</text>
<rect x="201.3" y="576.7" width="3.8" height="3.8" fill="#62a857"/>
<text x="207.3" y="581.12" font-size="7" fill="#858585" textLength="38.5" lengthAdjust="spacingAndGlyphs">Allied Health</text>
<rect x="254.3" y="576.7" width="3.8" height="3.8" fill="#fbb928"/>
<text x="259.6" y="581.12" font-size="7" fill="#858585" textLength="24.7" lengthAdjust="spacingAndGlyphs">Medical</text>
<rect x="382.9" y="413" width="297.2" height="177.7" fill="#fff" stroke="#e2e2e2" stroke-width="1"/>
<line x1="423.5" x2="671.1" y1="550.37" y2="550.37" stroke="#f3f3f5" stroke-width="1"/>
<line x1="423.5" x2="671.1" y1="547.75" y2="547.75" stroke="#f3f3f5" stroke-width="1"/>
<line x1="423.5" x2="671.1" y1="545.12" y2="545.12" stroke="#f3f3f5" stroke-width="1"/>
<line x1="423.5" x2="671.1" y1="542.5" y2="542.5" stroke="#f3f3f5" stroke-width="1"/>
<line x1="423.5" x2="671.1" y1="537.24" y2="537.24" stroke="#f3f3f5" stroke-width="1"/>
<line x1="423.5" x2="671.1" y1="534.62" y2="534.62" stroke="#f3f3f5" stroke-width="1"/>
<line x1="423.5" x2="671.1" y1="531.99" y2="531.99" stroke="#f3f3f5" stroke-width="1"/>
<line x1="423.5" x2="671.1" y1="529.37" y2="529.37" stroke="#f3f3f5" stroke-width="1"/>
<line x1="423.5" x2="671.1" y1="524.11" y2="524.11" stroke="#f3f3f5" stroke-width="1"/>
<line x1="423.5" x2="671.1" y1="521.49" y2="521.49" stroke="#f3f3f5" stroke-width="1"/>
<line x1="423.5" x2="671.1" y1="518.86" y2="518.86" stroke="#f3f3f5" stroke-width="1"/>
<line x1="423.5" x2="671.1" y1="516.24" y2="516.24" stroke="#f3f3f5" stroke-width="1"/>
<line x1="423.5" x2="671.1" y1="510.98" y2="510.98" stroke="#f3f3f5" stroke-width="1"/>
<line x1="423.5" x2="671.1" y1="508.36" y2="508.36" stroke="#f3f3f5" stroke-width="1"/>
<line x1="423.5" x2="671.1" y1="505.73" y2="505.73" stroke="#f3f3f5" stroke-width="1"/>
<line x1="423.5" x2="671.1" y1="503.11" y2="503.11" stroke="#f3f3f5" stroke-width="1"/>
<line x1="423.5" x2="671.1" y1="497.85" y2="497.85" stroke="#f3f3f5" stroke-width="1"/>
<line x1="423.5" x2="671.1" y1="495.23" y2="495.23" stroke="#f3f3f5" stroke-width="1"/>
<line x1="423.5" x2="671.1" y1="492.6" y2="492.6" stroke="#f3f3f5" stroke-width="1"/>
<line x1="423.5" x2="671.1" y1="489.98" y2="489.98" stroke="#f3f3f5" stroke-width="1"/>
<line x1="423.5" x2="671.1" y1="484.72" y2="484.72" stroke="#f3f3f5" stroke-width="1"/>
<line x1="423.5" x2="671.1" y1="482.1" y2="482.1" stroke="#f3f3f5" stroke-width="1"/>
<line x1="423.5" x2="671.1" y1="479.47" y2="479.47" stroke="#f3f3f5" stroke-width="1"/>
<line x1="423.5" x2="671.1" y1="476.85" y2="476.85" stroke="#f3f3f5" stroke-width="1"/>
<line x1="423.5" x2="671.1" y1="471.59" y2="471.59" stroke="#f3f3f5" stroke-width="1"/>
<line x1="423.5" x2="671.1" y1="468.97" y2="468.97" stroke="#f3f3f5" stroke-width="1"/>
<line x1="423.5" x2="671.1" y1="466.34" y2="466.34" stroke="#f3f3f5" stroke-width="1"/>
<line x1="423.5" x2="671.1" y1="463.72" y2="463.72" stroke="#f3f3f5" stroke-width="1"/>
<line x1="423.5" x2="671.1" y1="458.46" y2="458.46" stroke="#f3f3f5" stroke-width="1"/>
<line x1="423.5" x2="671.1" y1="455.84" y2="455.84" stroke="#f3f3f5" stroke-width="1"/>
<line x1="423.5" x2="671.1" y1="453.21" y2="453.21" stroke="#f3f3f5" stroke-width="1"/>
<line x1="423.5" x2="671.1" y1="450.59" y2="450.59" stroke="#f3f3f5" stroke-width="1"/>
<line x1="423.5" x2="671.1" y1="445.33" y2="445.33" stroke="#f3f3f5" stroke-width="1"/>
<line x1="423.5" x2="671.1" y1="442.71" y2="442.71" stroke="#f3f3f5" stroke-width="1"/>
<line x1="423.5" x2="671.1" y1="440.08" y2="440.08" stroke="#f3f3f5" stroke-width="1"/>
<line x1="423.5" x2="671.1" y1="437.46" y2="437.46" stroke="#f3f3f5" stroke-width="1"/>
<line x1="423.5" x2="671.1" y1="432.2" y2="432.2" stroke="#f3f3f5" stroke-width="1"/>
<line x1="423.5" x2="671.1" y1="429.58" y2="429.58" stroke="#f3f3f5" stroke-width="1"/>
<line x1="423.5" x2="671.1" y1="426.95" y2="426.95" stroke="#f3f3f5" stroke-width="1"/>
<line x1="423.5" x2="671.1" y1="424.33" y2="424.33" stroke="#f3f3f5" stroke-width="1"/>
<line x1="423.5" x2="671.1" y1="553" y2="553" stroke="#e2e2e4" stroke-width="1"/>
<text x="417.4" y="555.52" font-size="7" fill="#858585" text-anchor="end">0</text>
<line x1="423.5" x2="671.1" y1="539.87" y2="539.87" stroke="#e2e2e4" stroke-width="1"/>
<text x="417.4" y="542.39" font-size="7" fill="#858585" text-anchor="end">10</text>
<line x1="423.5" x2="671.1" y1="526.74" y2="526.74" stroke="#e2e2e4" stroke-width="1"/>
<text x="417.4" y="529.26" font-size="7" fill="#858585" text-anchor="end">20</text>
<line x1="423.5" x2="671.1" y1="513.61" y2="513.61" stroke="#e2e2e4" stroke-width="1"/>
<text x="417.4" y="516.13" font-size="7" fill="#858585" text-anchor="end">30</text>
<line x1="423.5" x2="671.1" y1="500.48" y2="500.48" stroke="#e2e2e4" stroke-width="1"/>
<text x="417.4" y="503" font-size="7" fill="#858585" text-anchor="end">40</text>
<line x1="423.5" x2="671.1" y1="487.35" y2="487.35" stroke="#e2e2e4" stroke-width="1"/>
<text x="417.4" y="489.87" font-size="7" fill="#858585" text-anchor="end">50</text>
<line x1="423.5" x2="671.1" y1="474.22" y2="474.22" stroke="#e2e2e4" stroke-width="1"/>
<text x="417.4" y="476.74" font-size="7" fill="#858585" text-anchor="end">60</text>
<line x1="423.5" x2="671.1" y1="461.09" y2="461.09" stroke="#e2e2e4" stroke-width="1"/>
<text x="417.4" y="463.61" font-size="7" fill="#858585" text-anchor="end">70</text>
<line x1="423.5" x2="671.1" y1="447.96" y2="447.96" stroke="#e2e2e4" stroke-width="1"/>
<text x="417.4" y="450.48" font-size="7" fill="#858585" text-anchor="end">80</text>
<line x1="423.5" x2="671.1" y1="434.83" y2="434.83" stroke="#e2e2e4" stroke-width="1"/>
<text x="417.4" y="437.35" font-size="7" fill="#858585" text-anchor="end">90</text>
<line x1="423.5" x2="671.1" y1="421.7" y2="421.7" stroke="#e2e2e4" stroke-width="1"/>
<text x="417.4" y="424.22" font-size="7" fill="#858585" text-anchor="end">100</text>
<rect x="447.16" y="542.89" width="21.61" height="10.11" fill="#4285c6"/>
<rect x="474.6" y="546.7" width="21.61" height="6.3" fill="#62a857"/>
<rect x="502.04" y="525.95" width="21.61" height="27.05" fill="#fbb928"/>
<text x="485.4" y="565.52" font-size="7" fill="#858585" text-anchor="middle" textLength="11.42" lengthAdjust="spacingAndGlyphs">Yes</text>
<rect x="570.96" y="432.07" width="21.61" height="120.93" fill="#4285c6"/>
<rect x="598.4" y="428.53" width="21.61" height="124.47" fill="#62a857"/>
<rect x="625.84" y="448.75" width="21.61" height="104.25" fill="#fbb928"/>
<text x="609.2" y="565.52" font-size="7" fill="#858585" text-anchor="middle" textLength="8.95" lengthAdjust="spacingAndGlyphs">No</text>
<text transform="translate(402.02,487.95) rotate(-90)" font-size="7" fill="#858585" text-anchor="middle" textLength="49" lengthAdjust="spacingAndGlyphs">Proportion (%)</text>
<rect x="469.8" y="576.7" width="3.8" height="3.8" fill="#4285c6"/>
<text x="476.1" y="581.12" font-size="7" fill="#858585" textLength="30" lengthAdjust="spacingAndGlyphs">Audiology</text>
<rect x="514.2" y="576.7" width="3.8" height="3.8" fill="#62a857"/>
<text x="520.1" y="581.12" font-size="7" fill="#858585" textLength="37.9" lengthAdjust="spacingAndGlyphs">Allied Health</text>
<rect x="566.9" y="576.7" width="3.8" height="3.8" fill="#fbb928"/>
<text x="572.5" y="581.12" font-size="7" fill="#858585" textLength="24.1" lengthAdjust="spacingAndGlyphs">Medical</text>
<rect x="70.6" y="604" width="296.7" height="177.4" fill="#fff" stroke="#e2e2e2" stroke-width="1"/>
<line x1="107.4" x2="358.5" y1="739.96" y2="739.96" stroke="#f3f3f5" stroke-width="1"/>
<line x1="107.4" x2="358.5" y1="736.23" y2="736.23" stroke="#f3f3f5" stroke-width="1"/>
<line x1="107.4" x2="358.5" y1="732.49" y2="732.49" stroke="#f3f3f5" stroke-width="1"/>
<line x1="107.4" x2="358.5" y1="728.75" y2="728.75" stroke="#f3f3f5" stroke-width="1"/>
<line x1="107.4" x2="358.5" y1="721.28" y2="721.28" stroke="#f3f3f5" stroke-width="1"/>
<line x1="107.4" x2="358.5" y1="717.54" y2="717.54" stroke="#f3f3f5" stroke-width="1"/>
<line x1="107.4" x2="358.5" y1="713.8" y2="713.8" stroke="#f3f3f5" stroke-width="1"/>
<line x1="107.4" x2="358.5" y1="710.07" y2="710.07" stroke="#f3f3f5" stroke-width="1"/>
<line x1="107.4" x2="358.5" y1="702.59" y2="702.59" stroke="#f3f3f5" stroke-width="1"/>
<line x1="107.4" x2="358.5" y1="698.85" y2="698.85" stroke="#f3f3f5" stroke-width="1"/>
<line x1="107.4" x2="358.5" y1="695.12" y2="695.12" stroke="#f3f3f5" stroke-width="1"/>
<line x1="107.4" x2="358.5" y1="691.38" y2="691.38" stroke="#f3f3f5" stroke-width="1"/>
<line x1="107.4" x2="358.5" y1="683.91" y2="683.91" stroke="#f3f3f5" stroke-width="1"/>
<line x1="107.4" x2="358.5" y1="680.17" y2="680.17" stroke="#f3f3f5" stroke-width="1"/>
<line x1="107.4" x2="358.5" y1="676.43" y2="676.43" stroke="#f3f3f5" stroke-width="1"/>
<line x1="107.4" x2="358.5" y1="672.69" y2="672.69" stroke="#f3f3f5" stroke-width="1"/>
<line x1="107.4" x2="358.5" y1="665.22" y2="665.22" stroke="#f3f3f5" stroke-width="1"/>
<line x1="107.4" x2="358.5" y1="661.48" y2="661.48" stroke="#f3f3f5" stroke-width="1"/>
<line x1="107.4" x2="358.5" y1="657.75" y2="657.75" stroke="#f3f3f5" stroke-width="1"/>
<line x1="107.4" x2="358.5" y1="654.01" y2="654.01" stroke="#f3f3f5" stroke-width="1"/>
<line x1="107.4" x2="358.5" y1="646.53" y2="646.53" stroke="#f3f3f5" stroke-width="1"/>
<line x1="107.4" x2="358.5" y1="642.8" y2="642.8" stroke="#f3f3f5" stroke-width="1"/>
<line x1="107.4" x2="358.5" y1="639.06" y2="639.06" stroke="#f3f3f5" stroke-width="1"/>
<line x1="107.4" x2="358.5" y1="635.32" y2="635.32" stroke="#f3f3f5" stroke-width="1"/>
<line x1="107.4" x2="358.5" y1="627.85" y2="627.85" stroke="#f3f3f5" stroke-width="1"/>
<line x1="107.4" x2="358.5" y1="624.11" y2="624.11" stroke="#f3f3f5" stroke-width="1"/>
<line x1="107.4" x2="358.5" y1="620.37" y2="620.37" stroke="#f3f3f5" stroke-width="1"/>
<line x1="107.4" x2="358.5" y1="616.64" y2="616.64" stroke="#f3f3f5" stroke-width="1"/>
<line x1="107.4" x2="358.5" y1="743.7" y2="743.7" stroke="#e2e2e4" stroke-width="1"/>
<text x="101.1" y="746.22" font-size="7" fill="#858585" text-anchor="end">0</text>
<line x1="107.4" x2="358.5" y1="725.01" y2="725.01" stroke="#e2e2e4" stroke-width="1"/>
<text x="101.1" y="727.53" font-size="7" fill="#858585" text-anchor="end">10</text>
<line x1="107.4" x2="358.5" y1="706.33" y2="706.33" stroke="#e2e2e4" stroke-width="1"/>
<text x="101.1" y="708.85" font-size="7" fill="#858585" text-anchor="end">20</text>
<line x1="107.4" x2="358.5" y1="687.64" y2="687.64" stroke="#e2e2e4" stroke-width="1"/>
<text x="101.1" y="690.16" font-size="7" fill="#858585" text-anchor="end">30</text>
<line x1="107.4" x2="358.5" y1="668.96" y2="668.96" stroke="#e2e2e4" stroke-width="1"/>
<text x="101.1" y="671.48" font-size="7" fill="#858585" text-anchor="end">40</text>
<line x1="107.4" x2="358.5" y1="650.27" y2="650.27" stroke="#e2e2e4" stroke-width="1"/>
<text x="101.1" y="652.79" font-size="7" fill="#858585" text-anchor="end">50</text>
<line x1="107.4" x2="358.5" y1="631.59" y2="631.59" stroke="#e2e2e4" stroke-width="1"/>
<text x="101.1" y="634.11" font-size="7" fill="#858585" text-anchor="end">60</text>
<line x1="107.4" x2="358.5" y1="612.9" y2="612.9" stroke="#e2e2e4" stroke-width="1"/>
<text x="101.1" y="615.42" font-size="7" fill="#858585" text-anchor="end">70</text>
<rect x="131.39" y="673.82" width="21.91" height="69.88" fill="#4285c6"/>
<rect x="159.22" y="668.77" width="21.91" height="74.93" fill="#62a857"/>
<rect x="187.05" y="666.15" width="21.91" height="77.55" fill="#fbb928"/>
<text x="170.18" y="756.22" font-size="7" fill="#858585" text-anchor="middle" textLength="11.42" lengthAdjust="spacingAndGlyphs">Yes</text>
<rect x="256.94" y="626.54" width="21.91" height="117.16" fill="#4285c6"/>
<rect x="284.77" y="631.21" width="21.91" height="112.49" fill="#62a857"/>
<rect x="312.6" y="634.01" width="21.91" height="109.69" fill="#fbb928"/>
<text x="295.73" y="756.22" font-size="7" fill="#858585" text-anchor="middle" textLength="8.95" lengthAdjust="spacingAndGlyphs">No</text>
<text transform="translate(88.92,678.9) rotate(-90)" font-size="7" fill="#858585" text-anchor="middle" textLength="49" lengthAdjust="spacingAndGlyphs">Proportion (%)</text>
<rect x="156.9" y="767.8" width="3.8" height="3.8" fill="#4285c6"/>
<text x="163.2" y="772.22" font-size="7" fill="#858585" textLength="29.8" lengthAdjust="spacingAndGlyphs">Audiology</text>
<rect x="201.3" y="767.8" width="3.8" height="3.8" fill="#62a857"/>
<text x="207.3" y="772.22" font-size="7" fill="#858585" textLength="38.5" lengthAdjust="spacingAndGlyphs">Allied Health</text>
<rect x="254.3" y="767.8" width="3.8" height="3.8" fill="#fbb928"/>
<text x="259.6" y="772.22" font-size="7" fill="#858585" textLength="24.7" lengthAdjust="spacingAndGlyphs">Medical</text>
<rect x="382.4" y="604" width="297.7" height="177.4" fill="#fff" stroke="#e2e2e2" stroke-width="1"/>
<line x1="420.1" x2="671.1" y1="740.43" y2="740.43" stroke="#f3f3f5" stroke-width="1"/>
<line x1="420.1" x2="671.1" y1="737.16" y2="737.16" stroke="#f3f3f5" stroke-width="1"/>
<line x1="420.1" x2="671.1" y1="733.89" y2="733.89" stroke="#f3f3f5" stroke-width="1"/>
<line x1="420.1" x2="671.1" y1="730.62" y2="730.62" stroke="#f3f3f5" stroke-width="1"/>
<line x1="420.1" x2="671.1" y1="724.08" y2="724.08" stroke="#f3f3f5" stroke-width="1"/>
<line x1="420.1" x2="671.1" y1="720.81" y2="720.81" stroke="#f3f3f5" stroke-width="1"/>
<line x1="420.1" x2="671.1" y1="717.54" y2="717.54" stroke="#f3f3f5" stroke-width="1"/>
<line x1="420.1" x2="671.1" y1="714.27" y2="714.27" stroke="#f3f3f5" stroke-width="1"/>
<line x1="420.1" x2="671.1" y1="707.73" y2="707.73" stroke="#f3f3f5" stroke-width="1"/>
<line x1="420.1" x2="671.1" y1="704.46" y2="704.46" stroke="#f3f3f5" stroke-width="1"/>
<line x1="420.1" x2="671.1" y1="701.19" y2="701.19" stroke="#f3f3f5" stroke-width="1"/>
<line x1="420.1" x2="671.1" y1="697.92" y2="697.92" stroke="#f3f3f5" stroke-width="1"/>
<line x1="420.1" x2="671.1" y1="691.38" y2="691.38" stroke="#f3f3f5" stroke-width="1"/>
<line x1="420.1" x2="671.1" y1="688.11" y2="688.11" stroke="#f3f3f5" stroke-width="1"/>
<line x1="420.1" x2="671.1" y1="684.84" y2="684.84" stroke="#f3f3f5" stroke-width="1"/>
<line x1="420.1" x2="671.1" y1="681.57" y2="681.57" stroke="#f3f3f5" stroke-width="1"/>
<line x1="420.1" x2="671.1" y1="675.03" y2="675.03" stroke="#f3f3f5" stroke-width="1"/>
<line x1="420.1" x2="671.1" y1="671.76" y2="671.76" stroke="#f3f3f5" stroke-width="1"/>
<line x1="420.1" x2="671.1" y1="668.49" y2="668.49" stroke="#f3f3f5" stroke-width="1"/>
<line x1="420.1" x2="671.1" y1="665.22" y2="665.22" stroke="#f3f3f5" stroke-width="1"/>
<line x1="420.1" x2="671.1" y1="658.68" y2="658.68" stroke="#f3f3f5" stroke-width="1"/>
<line x1="420.1" x2="671.1" y1="655.41" y2="655.41" stroke="#f3f3f5" stroke-width="1"/>
<line x1="420.1" x2="671.1" y1="652.14" y2="652.14" stroke="#f3f3f5" stroke-width="1"/>
<line x1="420.1" x2="671.1" y1="648.87" y2="648.87" stroke="#f3f3f5" stroke-width="1"/>
<line x1="420.1" x2="671.1" y1="642.33" y2="642.33" stroke="#f3f3f5" stroke-width="1"/>
<line x1="420.1" x2="671.1" y1="639.06" y2="639.06" stroke="#f3f3f5" stroke-width="1"/>
<line x1="420.1" x2="671.1" y1="635.79" y2="635.79" stroke="#f3f3f5" stroke-width="1"/>
<line x1="420.1" x2="671.1" y1="632.52" y2="632.52" stroke="#f3f3f5" stroke-width="1"/>
<line x1="420.1" x2="671.1" y1="625.98" y2="625.98" stroke="#f3f3f5" stroke-width="1"/>
<line x1="420.1" x2="671.1" y1="622.71" y2="622.71" stroke="#f3f3f5" stroke-width="1"/>
<line x1="420.1" x2="671.1" y1="619.44" y2="619.44" stroke="#f3f3f5" stroke-width="1"/>
<line x1="420.1" x2="671.1" y1="616.17" y2="616.17" stroke="#f3f3f5" stroke-width="1"/>
<line x1="420.1" x2="671.1" y1="743.7" y2="743.7" stroke="#e2e2e4" stroke-width="1"/>
<text x="413.8" y="746.22" font-size="7" fill="#858585" text-anchor="end">0</text>
<line x1="420.1" x2="671.1" y1="727.35" y2="727.35" stroke="#e2e2e4" stroke-width="1"/>
<text x="413.8" y="729.87" font-size="7" fill="#858585" text-anchor="end">10</text>
<line x1="420.1" x2="671.1" y1="711" y2="711" stroke="#e2e2e4" stroke-width="1"/>
<text x="413.8" y="713.52" font-size="7" fill="#858585" text-anchor="end">20</text>
<line x1="420.1" x2="671.1" y1="694.65" y2="694.65" stroke="#e2e2e4" stroke-width="1"/>
<text x="413.8" y="697.17" font-size="7" fill="#858585" text-anchor="end">30</text>
<line x1="420.1" x2="671.1" y1="678.3" y2="678.3" stroke="#e2e2e4" stroke-width="1"/>
<text x="413.8" y="680.82" font-size="7" fill="#858585" text-anchor="end">40</text>
<line x1="420.1" x2="671.1" y1="661.95" y2="661.95" stroke="#e2e2e4" stroke-width="1"/>
<text x="413.8" y="664.47" font-size="7" fill="#858585" text-anchor="end">50</text>
<line x1="420.1" x2="671.1" y1="645.6" y2="645.6" stroke="#e2e2e4" stroke-width="1"/>
<text x="413.8" y="648.12" font-size="7" fill="#858585" text-anchor="end">60</text>
<line x1="420.1" x2="671.1" y1="629.25" y2="629.25" stroke="#e2e2e4" stroke-width="1"/>
<text x="413.8" y="631.77" font-size="7" fill="#858585" text-anchor="end">70</text>
<line x1="420.1" x2="671.1" y1="612.9" y2="612.9" stroke="#e2e2e4" stroke-width="1"/>
<text x="413.8" y="615.42" font-size="7" fill="#858585" text-anchor="end">80</text>
<rect x="444.08" y="698.41" width="21.9" height="45.29" fill="#4285c6"/>
<rect x="471.9" y="695.63" width="21.9" height="48.07" fill="#62a857"/>
<rect x="499.71" y="669.96" width="21.9" height="73.74" fill="#fbb928"/>
<text x="482.85" y="756.22" font-size="7" fill="#858585" text-anchor="middle" textLength="11.42" lengthAdjust="spacingAndGlyphs">Yes</text>
<rect x="569.58" y="624.84" width="21.9" height="118.86" fill="#4285c6"/>
<rect x="597.4" y="627.78" width="21.9" height="115.92" fill="#62a857"/>
<rect x="625.21" y="653.77" width="21.9" height="89.93" fill="#fbb928"/>
<text x="608.35" y="756.22" font-size="7" fill="#858585" text-anchor="middle" textLength="8.95" lengthAdjust="spacingAndGlyphs">No</text>
<text transform="translate(402.02,678.9) rotate(-90)" font-size="7" fill="#858585" text-anchor="middle" textLength="49" lengthAdjust="spacingAndGlyphs">Proportion (%)</text>
<rect x="469.8" y="767.8" width="3.8" height="3.8" fill="#4285c6"/>
<text x="476.1" y="772.22" font-size="7" fill="#858585" textLength="30" lengthAdjust="spacingAndGlyphs">Audiology</text>
<rect x="514.2" y="767.8" width="3.8" height="3.8" fill="#62a857"/>
<text x="520.1" y="772.22" font-size="7" fill="#858585" textLength="37.9" lengthAdjust="spacingAndGlyphs">Allied Health</text>
<rect x="566.9" y="767.8" width="3.8" height="3.8" fill="#fbb928"/>
<text x="572.5" y="772.22" font-size="7" fill="#858585" textLength="24.1" lengthAdjust="spacingAndGlyphs">Medical</text>
<rect x="0" y="1" width="709" height="2" fill="#a2a2a2"/>
<rect x="0" y="30" width="709" height="1.8" fill="#959595"/>
<rect x="0" y="220.6" width="709" height="1.3" fill="#5c5c5c"/>
<rect x="0" y="411.5" width="709" height="1.3" fill="#5c5c5c"/>
<rect x="0" y="602.2" width="709" height="1.5" fill="#7a7a7a"/>
<rect x="0" y="792.7" width="709" height="1.3" fill="#505050"/>
<rect x="0" y="1" width="1.3" height="793" fill="#5e5e5e"/>
<rect x="61.7" y="1" width="1.6" height="793" fill="#7a7a7a"/>
<rect x="374.3" y="1" width="1.6" height="793" fill="#7a7a7a"/>
<rect x="707" y="1" width="2" height="793" fill="#a4a4a4"/>
<text x="137.5" y="17" font-size="15.4" font-family="Liberation Serif" font-weight="bold" fill="#1a1a1a" textLength="163" lengthAdjust="spacingAndGlyphs">Pre-school-aged children</text>
<text x="472.4" y="17" font-size="15.4" font-family="Liberation Serif" font-weight="bold" fill="#1a1a1a" textLength="138.3" lengthAdjust="spacingAndGlyphs">School-aged children</text>
<text transform="translate(22.1,189.7) rotate(-90)" font-size="15.3" font-family="Liberation Serif" font-weight="bold" fill="#1a1a1a" textLength="128.44" lengthAdjust="spacingAndGlyphs">Difficulty accessing</text>
<text transform="translate(40.3,181.2) rotate(-90)" font-size="15.3" font-family="Liberation Serif" font-weight="bold" fill="#1a1a1a" textLength="109.91" lengthAdjust="spacingAndGlyphs">service(s) during</text>
<text transform="translate(58.6,157.6) rotate(-90)" font-size="15.3" font-family="Liberation Serif" font-weight="bold" fill="#1a1a1a" textLength="64.25" lengthAdjust="spacingAndGlyphs">pandemic</text>
<text transform="translate(22.2,385.4) rotate(-90)" font-size="15.3" font-family="Liberation Serif" font-weight="bold" fill="#1a1a1a" textLength="137" lengthAdjust="spacingAndGlyphs">Service provider less</text>
<text transform="translate(40.4,405.2) rotate(-90)" font-size="15.3" font-family="Liberation Serif" font-weight="bold" fill="#1a1a1a" textLength="176.82" lengthAdjust="spacingAndGlyphs">available during pandemic</text>
<text transform="translate(22.2,592.1) rotate(-90)" font-size="15.3" font-family="Liberation Serif" font-weight="bold" fill="#1a1a1a" textLength="169.11" lengthAdjust="spacingAndGlyphs">I would rather access this</text>
<text transform="translate(40.4,594.8) rotate(-90)" font-size="15.3" font-family="Liberation Serif" font-weight="bold" fill="#1a1a1a" textLength="174.28" lengthAdjust="spacingAndGlyphs">service by telehealth/video</text>
<text transform="translate(58.6,555.1) rotate(-90)" font-size="15.3" font-family="Liberation Serif" font-weight="bold" fill="#1a1a1a" textLength="96.42" lengthAdjust="spacingAndGlyphs">than in person</text>
<text transform="translate(22.2,790.9) rotate(-90)" font-size="15.3" font-family="Liberation Serif" font-weight="bold" fill="#1a1a1a" textLength="184.55" lengthAdjust="spacingAndGlyphs">I worry about accessing this</text>
<text transform="translate(40.4,789.2) rotate(-90)" font-size="15.3" font-family="Liberation Serif" font-weight="bold" fill="#1a1a1a" textLength="183.21" lengthAdjust="spacingAndGlyphs">service in person because of</text>
<text transform="translate(58.6,734.4) rotate(-90)" font-size="15.3" font-family="Liberation Serif" font-weight="bold" fill="#1a1a1a" textLength="71.22" lengthAdjust="spacingAndGlyphs">COVID-19</text>
</svg></body></html>
